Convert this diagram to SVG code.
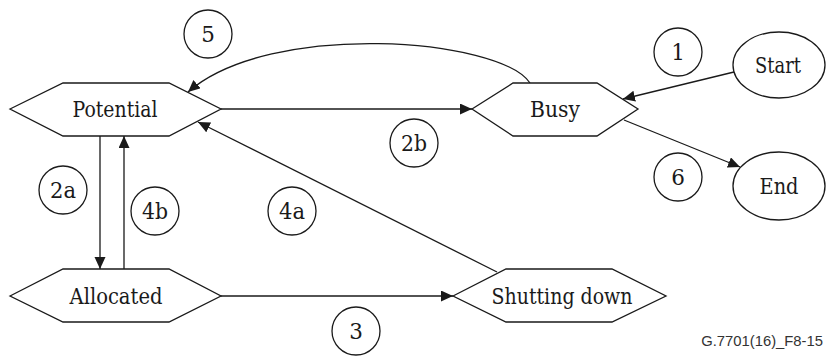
<svg xmlns="http://www.w3.org/2000/svg" width="832" height="356" viewBox="0 0 832 356">
<style>
.shape{fill:#fff;stroke:#1a1a1a;stroke-width:1.3}
.edge{fill:none;stroke:#1a1a1a;stroke-width:1.3}
.lbl{font-family:'DejaVu Serif',serif;font-size:22px;fill:#1a1a1a;text-anchor:middle}
.num{font-family:'DejaVu Serif',serif;font-size:21.5px;fill:#1a1a1a;text-anchor:middle}
.foot{font-family:'Liberation Sans',Arial,sans-serif;font-size:14.8px;fill:#333;text-anchor:end}
</style>
<defs>
<marker id="arr" markerUnits="userSpaceOnUse" markerWidth="13" markerHeight="12" refX="12" refY="5.5" orient="auto">
<path d="M0,0 L12,5.5 L0,11 z" fill="#1a1a1a"/>
</marker>
</defs>
<g id="connectors">
<line class="edge" x1="221" y1="109" x2="472" y2="109" marker-end="url(#arr)"/>
<line class="edge" x1="734" y1="72" x2="623" y2="99" marker-end="url(#arr)"/>
<line class="edge" x1="624" y1="120" x2="740" y2="167" marker-end="url(#arr)"/>
<path class="edge" d="M530,83 C500,38 270,20 188,92" marker-end="url(#arr)"/>
<line class="edge" x1="100" y1="136" x2="100" y2="269" marker-end="url(#arr)"/>
<line class="edge" x1="124" y1="269" x2="124" y2="136" marker-end="url(#arr)"/>
<line class="edge" x1="497" y1="272" x2="198" y2="122" marker-end="url(#arr)"/>
<line class="edge" x1="221" y1="296" x2="453" y2="296" marker-end="url(#arr)"/>
</g>
<g id="potential">
<polygon class="shape" points="10,109 63,83 169,83 221,109 169,136 63,136"/>
<text class="lbl" x="115" y="117" textLength="85" lengthAdjust="spacingAndGlyphs">Potential</text>
</g>
<g id="busy">
<polygon class="shape" points="472,109 513,83 597,83 638,109 597,136 513,136"/>
<text class="lbl" x="555" y="117" textLength="50" lengthAdjust="spacingAndGlyphs">Busy</text>
</g>
<g id="start">
<ellipse class="shape" cx="779" cy="65" rx="46" ry="33"/>
<text class="lbl" x="778" y="73" textLength="46" lengthAdjust="spacingAndGlyphs">Start</text>
</g>
<g id="end">
<ellipse class="shape" cx="779" cy="186" rx="46" ry="34"/>
<text class="lbl" x="779" y="194" textLength="39" lengthAdjust="spacingAndGlyphs">End</text>
</g>
<g id="allocated">
<polygon class="shape" points="10,296 63,269 169,269 221,296 169,322 63,322"/>
<text class="lbl" x="116" y="304" textLength="93" lengthAdjust="spacingAndGlyphs">Allocated</text>
</g>
<g id="shutting-down">
<polygon class="shape" points="453,296 506,269 612,269 666,296 612,322 506,322"/>
<text class="lbl" x="562" y="304" textLength="141" lengthAdjust="spacingAndGlyphs">Shutting down</text>
</g>
<g id="label-5"><circle class="shape" cx="208" cy="34" r="24"/><text class="num" x="208" y="42">5</text></g>
<g id="label-1"><circle class="shape" cx="678" cy="52" r="24"/><text class="num" x="678" y="60">1</text></g>
<g id="label-2b"><circle class="shape" cx="414" cy="143" r="24"/><text class="num" x="414" y="151" textLength="26" lengthAdjust="spacingAndGlyphs">2b</text></g>
<g id="label-6"><circle class="shape" cx="678" cy="177" r="24"/><text class="num" x="678" y="185">6</text></g>
<g id="label-2a"><circle class="shape" cx="63" cy="190" r="24"/><text class="num" x="63" y="198" textLength="26" lengthAdjust="spacingAndGlyphs">2a</text></g>
<g id="label-4b"><circle class="shape" cx="155" cy="211" r="24"/><text class="num" x="155" y="219" textLength="26" lengthAdjust="spacingAndGlyphs">4b</text></g>
<g id="label-4a"><circle class="shape" cx="292" cy="211" r="24"/><text class="num" x="292" y="219" textLength="26" lengthAdjust="spacingAndGlyphs">4a</text></g>
<g id="label-3"><circle class="shape" cx="356" cy="331" r="24"/><text class="num" x="356" y="339">3</text></g>
<text class="foot" x="823" y="346">G.7701(16)_F8-15</text>
</svg>
